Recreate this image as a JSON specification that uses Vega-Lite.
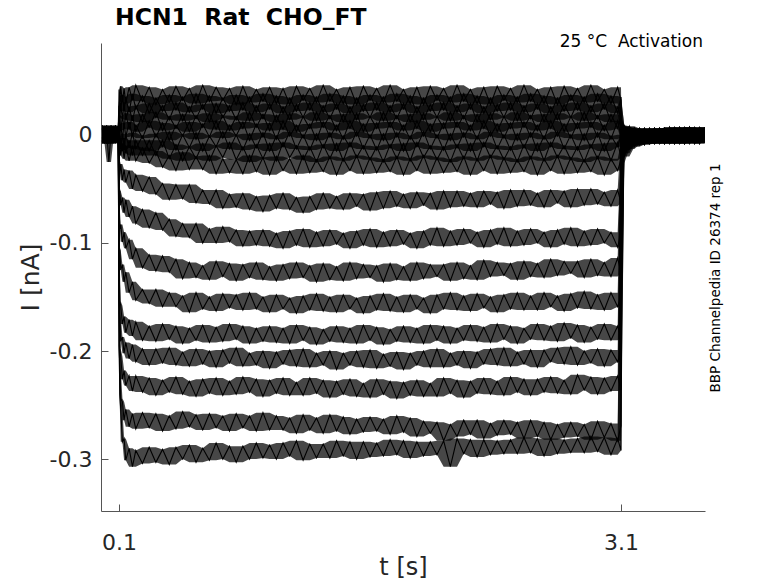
{
"$schema": "https://vega.github.io/schema/vega-lite/v6.json",
"width": 604, "height": 468,
"autosize": "none",
"padding": {"left": 101, "top": 43, "right": 73, "bottom": 72},
"background": "white",
"config": {"view": {"stroke": null}, "font": "DejaVu Sans"},
"title": {"text": "HCN1\u00a0 Rat\u00a0 CHO_FT", "anchor": "start", "frame": "group", "dx": 14, "fontSize": 23.5, "fontWeight": "bold", "font": "DejaVu Sans", "color": "#000000", "offset": -16, "baseline": "alphabetic"},
"datasets": {"sweeps": [
{"t":0,"a":0.006,"b":-0.005,"c":0.008,"d":-0.007,"e":0.004,"f":-0.006,"g":0.007,"h":-0.003,"i":0.005,"j":-0.008,"k":0.006,"l":-0.004,"m":0.009,"n":-0.006,"o":0.003,"p":-0.007,"q":0.005},
{"t":0.013,"a":-0.007,"b":0.006,"c":-0.004,"d":0.008,"e":-0.006,"f":0.005,"g":-0.008,"h":0.007,"i":-0.005,"j":0.004,"k":-0.007,"l":0.006,"m":-0.003,"n":0.008,"o":-0.006,"p":0.005,"q":-0.008},
{"t":0.026,"a":0.005,"b":-0.008,"c":0.007,"d":-0.004,"e":0.009,"f":-0.005,"g":0.004,"h":-0.007,"i":0.008,"j":-0.006,"k":0.003,"l":-0.008,"m":0.006,"n":-0.004,"o":0.007,"p":-0.006,"q":0.004},
{"t":0.039,"a":-0.006,"b":0.004,"c":-0.008,"d":0.006,"e":-0.005,"f":0.007,"g":-0.006,"h":0.005,"i":-0.007,"j":0.008,"k":-0.004,"l":0.006,"m":-0.008,"n":0.005,"o":-0.006,"p":0.004,"q":-0.025},
{"t":0.052,"a":0.008,"b":-0.006,"c":0.005,"d":-0.007,"e":0.006,"f":-0.004,"g":0.009,"h":-0.006,"i":0.004,"j":-0.007,"k":0.008,"l":-0.005,"m":0.004,"n":-0.008,"o":0.006,"p":-0.005,"q":0.003},
{"t":0.065,"a":-0.004,"b":0.007,"c":-0.006,"d":0.005,"e":-0.008,"f":0.006,"g":-0.005,"h":0.004,"i":-0.006,"j":0.005,"k":-0.007,"l":0.008,"m":-0.005,"n":0.006,"o":-0.004,"p":0.007,"q":-0.006},
{"t":0.078,"a":0.007,"b":-0.005,"c":0.004,"d":-0.008,"e":0.006,"f":-0.007,"g":0.005,"h":-0.004,"i":0.009,"j":-0.005,"k":0.006,"l":-0.006,"m":0.007,"n":-0.003,"o":0.008,"p":-0.006,"q":0.005},
{"t":0.091,"a":-0.005,"b":0.006,"c":-0.007,"d":0.004,"e":-0.004,"f":0.008,"g":-0.007,"h":0.006,"i":-0.005,"j":0.007,"k":-0.003,"l":0.005,"m":-0.006,"n":0.007,"o":-0.005,"p":0.004,"q":-0.007},
{"t":0.099,"a":0.003,"b":-0.004,"c":0.005,"d":-0.003,"e":0.004,"f":-0.005,"g":0.003,"h":-0.004,"i":0.002,"j":-0.003,"k":0.004,"l":-0.002,"m":0.003,"n":-0.004,"o":0.002,"p":-0.003,"q":0.001},
{"t":0.1,"a":0.042,"b":0.025,"c":0.027,"d":0.007,"e":0.008,"f":-0.011,"g":-0.005,"h":-0.016,"i":-0.024,"j":-0.053,"k":-0.07,"l":-0.104,"m":-0.125,"n":-0.153,"o":-0.166,"p":-0.195,"q":-0.197},
{"t":0.105,"a":0.031,"b":0.036,"c":0.016,"d":0.018,"e":-0.003,"f":-0.001,"g":-0.013,"h":-0.009,"i":-0.036,"j":-0.052,"k":-0.087,"l":-0.107,"m":-0.154,"n":-0.167,"o":-0.198,"p":-0.216,"q":-0.24},
{"t":0.11,"a":0.045,"b":0.023,"c":0.028,"d":0.004,"e":0.01,"f":-0.013,"g":-0.003,"h":-0.019,"i":-0.027,"j":-0.065,"k":-0.083,"l":-0.125,"m":-0.158,"n":-0.191,"o":-0.205,"p":-0.244,"q":-0.254},
{"t":0.12,"a":0.03,"b":0.037,"c":0.015,"d":0.017,"e":-0.004,"f":0.001,"g":-0.015,"h":-0.008,"i":-0.042,"j":-0.058,"k":-0.099,"l":-0.12,"m":-0.175,"n":-0.187,"o":-0.226,"p":-0.247,"q":-0.284},
{"t":0.13,"a":0.043,"b":0.022,"c":0.03,"d":0.006,"e":0.011,"f":-0.014,"g":-0.003,"h":-0.022,"i":-0.032,"j":-0.072,"k":-0.09,"l":-0.136,"m":-0.168,"n":-0.202,"o":-0.218,"p":-0.264,"q":-0.281},
{"t":0.14,"a":0.029,"b":0.035,"c":0.014,"d":0.02,"e":-0.002,"f":0,"g":-0.017,"h":-0.01,"i":-0.044,"j":-0.06,"k":-0.105,"l":-0.127,"m":-0.183,"n":-0.192,"o":-0.232,"p":-0.254,"q":-0.301},
{"t":0.16,"a":0.044,"b":0.021,"c":0.026,"d":0.005,"e":0.012,"f":-0.012,"g":-0.005,"h":-0.024,"i":-0.033,"j":-0.076,"k":-0.097,"l":-0.146,"m":-0.171,"n":-0.207,"o":-0.223,"p":-0.27,"q":-0.29},
{"t":0.18,"a":0.032,"b":0.038,"c":0.013,"d":0.018,"e":-0.001,"f":0.002,"g":-0.019,"h":-0.01,"i":-0.05,"j":-0.066,"k":-0.115,"l":-0.136,"m":-0.186,"n":-0.194,"o":-0.237,"p":-0.258,"q":-0.307},
{"t":0.2,"a":0.046,"b":0.024,"c":0.027,"d":0.003,"e":0.009,"f":-0.013,"g":-0.005,"h":-0.024,"i":-0.037,"j":-0.082,"k":-0.105,"l":-0.153,"m":-0.173,"n":-0.21,"o":-0.223,"p":-0.272,"q":-0.292},
{"t":0.24,"a":0.031,"b":0.036,"c":0.012,"d":0.019,"e":-0.003,"f":-0.001,"g":-0.019,"h":-0.012,"i":-0.052,"j":-0.069,"k":-0.123,"l":-0.143,"m":-0.19,"n":-0.198,"o":-0.238,"p":-0.257,"q":-0.304},
{"t":0.28,"a":0.044,"b":0.02,"c":0.029,"d":0.007,"e":0.013,"f":-0.015,"g":-0.005,"h":-0.026,"i":-0.039,"j":-0.086,"k":-0.111,"l":-0.156,"m":-0.177,"n":-0.213,"o":-0.225,"p":-0.271,"q":-0.289},
{"t":0.32,"a":0.028,"b":0.034,"c":0.016,"d":0.021,"e":-0.002,"f":0.001,"g":-0.019,"h":-0.015,"i":-0.055,"j":-0.072,"k":-0.126,"l":-0.143,"m":-0.191,"n":-0.198,"o":-0.241,"p":-0.258,"q":-0.303},
{"t":0.36,"a":0.042,"b":0.022,"c":0.027,"d":0.004,"e":0.011,"f":-0.011,"g":-0.005,"h":-0.03,"i":-0.045,"j":-0.088,"k":-0.112,"l":-0.159,"m":-0.175,"n":-0.211,"o":-0.227,"p":-0.274,"q":-0.291},
{"t":0.4,"a":0.03,"b":0.037,"c":0.014,"d":0.017,"e":-0.005,"f":0.003,"g":-0.022,"h":-0.019,"i":-0.06,"j":-0.078,"k":-0.127,"l":-0.146,"m":-0.189,"n":-0.197,"o":-0.238,"p":-0.26,"q":-0.305},
{"t":0.44,"a":0.045,"b":0.023,"c":0.03,"d":0.006,"e":0.009,"f":-0.014,"g":-0.009,"h":-0.033,"i":-0.046,"j":-0.094,"k":-0.115,"l":-0.159,"m":-0.177,"n":-0.213,"o":-0.224,"p":-0.272,"q":-0.289},
{"t":0.48,"a":0.032,"b":0.035,"c":0.013,"d":0.019,"e":-0.001,"f":0,"g":-0.024,"h":-0.016,"i":-0.059,"j":-0.082,"k":-0.133,"l":-0.149,"m":-0.193,"n":-0.201,"o":-0.24,"p":-0.256,"q":-0.3},
{"t":0.52,"a":0.043,"b":0.021,"c":0.026,"d":0.003,"e":0.012,"f":-0.012,"g":-0.011,"h":-0.032,"i":-0.046,"j":-0.095,"k":-0.118,"l":-0.164,"m":-0.179,"n":-0.214,"o":-0.228,"p":-0.27,"q":-0.287},
{"t":0.56,"a":0.029,"b":0.038,"c":0.015,"d":0.018,"e":-0.004,"f":0.002,"g":-0.022,"h":-0.02,"i":-0.063,"j":-0.082,"k":-0.132,"l":-0.146,"m":-0.19,"n":-0.198,"o":-0.242,"p":-0.259,"q":-0.303},
{"t":0.6,"a":0.046,"b":0.024,"c":0.028,"d":0.007,"e":0.01,"f":-0.015,"g":-0.008,"h":-0.032,"i":-0.051,"j":-0.1,"k":-0.121,"l":-0.161,"m":-0.176,"n":-0.212,"o":-0.226,"p":-0.273,"q":-0.29},
{"t":0.64,"a":0.031,"b":0.036,"c":0.012,"d":0.02,"e":-0.002,"f":-0.001,"g":-0.024,"h":-0.019,"i":-0.064,"j":-0.087,"k":-0.134,"l":-0.15,"m":-0.192,"n":-0.2,"o":-0.239,"p":-0.258,"q":-0.301},
{"t":0.68,"a":0.044,"b":0.02,"c":0.029,"d":0.005,"e":0.013,"f":-0.011,"g":-0.01,"h":-0.036,"i":-0.051,"j":-0.1,"k":-0.117,"l":-0.163,"m":-0.178,"n":-0.215,"o":-0.225,"p":-0.271,"q":-0.285},
{"t":0.72,"a":0.032,"b":0.034,"c":0.016,"d":0.018,"e":-0.003,"f":0.003,"g":-0.021,"h":-0.022,"i":-0.068,"j":-0.085,"k":-0.131,"l":-0.147,"m":-0.191,"n":-0.199,"o":-0.241,"p":-0.26,"q":-0.3},
{"t":0.76,"a":0.043,"b":0.022,"c":0.027,"d":0.004,"e":0.009,"f":-0.013,"g":-0.007,"h":-0.035,"i":-0.055,"j":-0.099,"k":-0.119,"l":-0.16,"m":-0.175,"n":-0.211,"o":-0.228,"p":-0.274,"q":-0.288},
{"t":0.8,"a":0.028,"b":0.037,"c":0.014,"d":0.017,"e":-0.001,"f":0,"g":-0.023,"h":-0.023,"i":-0.067,"j":-0.088,"k":-0.135,"l":-0.148,"m":-0.189,"n":-0.197,"o":-0.24,"p":-0.258,"q":-0.303},
{"t":0.84,"a":0.045,"b":0.023,"c":0.03,"d":0.006,"e":0.012,"f":-0.014,"g":-0.011,"h":-0.036,"i":-0.054,"j":-0.103,"k":-0.12,"l":-0.162,"m":-0.177,"n":-0.214,"o":-0.224,"p":-0.271,"q":-0.288},
{"t":0.88,"a":0.03,"b":0.035,"c":0.013,"d":0.021,"e":-0.005,"f":0.001,"g":-0.025,"h":-0.019,"i":-0.069,"j":-0.089,"k":-0.132,"l":-0.146,"m":-0.193,"n":-0.202,"o":-0.238,"p":-0.26,"q":-0.3},
{"t":0.92,"a":0.042,"b":0.021,"c":0.027,"d":0.007,"e":0.01,"f":-0.012,"g":-0.009,"h":-0.034,"i":-0.057,"j":-0.102,"k":-0.118,"l":-0.161,"m":-0.179,"n":-0.213,"o":-0.226,"p":-0.274,"q":-0.285},
{"t":0.96,"a":0.031,"b":0.038,"c":0.015,"d":0.019,"e":-0.002,"f":0.002,"g":-0.022,"h":-0.021,"i":-0.071,"j":-0.088,"k":-0.134,"l":-0.15,"m":-0.191,"n":-0.2,"o":-0.242,"p":-0.257,"q":-0.299},
{"t":1.0,"a":0.044,"b":0.024,"c":0.029,"d":0.004,"e":0.011,"f":-0.015,"g":-0.008,"h":-0.037,"i":-0.056,"j":-0.103,"k":-0.122,"l":-0.164,"m":-0.177,"n":-0.216,"o":-0.227,"p":-0.273,"q":-0.287},
{"t":1.04,"a":0.029,"b":0.036,"c":0.012,"d":0.018,"e":-0.004,"f":-0.001,"g":-0.024,"h":-0.02,"i":-0.068,"j":-0.091,"k":-0.135,"l":-0.148,"m":-0.192,"n":-0.201,"o":-0.239,"p":-0.26,"q":-0.3},
{"t":1.08,"a":0.043,"b":0.02,"c":0.026,"d":0.005,"e":0.013,"f":-0.011,"g":-0.007,"h":-0.033,"i":-0.054,"j":-0.105,"k":-0.12,"l":-0.161,"m":-0.179,"n":-0.212,"o":-0.225,"p":-0.273,"q":-0.285},
{"t":1.12,"a":0.028,"b":0.034,"c":0.014,"d":0.02,"e":-0.001,"f":0.003,"g":-0.021,"h":-0.022,"i":-0.069,"j":-0.089,"k":-0.133,"l":-0.151,"m":-0.193,"n":-0.199,"o":-0.241,"p":-0.262,"q":-0.297},
{"t":1.16,"a":0.045,"b":0.022,"c":0.028,"d":0.003,"e":0.009,"f":-0.013,"g":-0.01,"h":-0.036,"i":-0.058,"j":-0.102,"k":-0.118,"l":-0.165,"m":-0.176,"n":-0.214,"o":-0.229,"p":-0.276,"q":-0.283},
{"t":1.2,"a":0.032,"b":0.037,"c":0.016,"d":0.017,"e":-0.003,"f":0,"g":-0.023,"h":-0.019,"i":-0.072,"j":-0.087,"k":-0.132,"l":-0.149,"m":-0.19,"n":-0.198,"o":-0.241,"p":-0.259,"q":-0.301},
{"t":1.24,"a":0.043,"b":0.023,"c":0.03,"d":0.006,"e":0.01,"f":-0.014,"g":-0.011,"h":-0.035,"i":-0.057,"j":-0.104,"k":-0.121,"l":-0.162,"m":-0.178,"n":-0.215,"o":-0.225,"p":-0.273,"q":-0.286},
{"t":1.28,"a":0.03,"b":0.035,"c":0.013,"d":0.021,"e":-0.005,"f":0.001,"g":-0.025,"h":-0.023,"i":-0.069,"j":-0.09,"k":-0.136,"l":-0.147,"m":-0.194,"n":-0.202,"o":-0.239,"p":-0.262,"q":-0.299},
{"t":1.32,"a":0.046,"b":0.021,"c":0.027,"d":0.007,"e":0.012,"f":-0.012,"g":-0.009,"h":-0.034,"i":-0.054,"j":-0.103,"k":-0.119,"l":-0.163,"m":-0.18,"n":-0.213,"o":-0.227,"p":-0.276,"q":-0.286},
{"t":1.36,"a":0.031,"b":0.038,"c":0.015,"d":0.018,"e":-0.002,"f":0.002,"g":-0.022,"h":-0.02,"i":-0.068,"j":-0.088,"k":-0.134,"l":-0.15,"m":-0.191,"n":-0.2,"o":-0.243,"p":-0.259,"q":-0.299},
{"t":1.4,"a":0.042,"b":0.024,"c":0.029,"d":0.004,"e":0.009,"f":-0.015,"g":-0.008,"h":-0.037,"i":-0.057,"j":-0.101,"k":-0.122,"l":-0.164,"m":-0.177,"n":-0.217,"o":-0.228,"p":-0.274,"q":-0.283},
{"t":1.44,"a":0.029,"b":0.036,"c":0.012,"d":0.019,"e":-0.004,"f":-0.001,"g":-0.024,"h":-0.022,"i":-0.069,"j":-0.091,"k":-0.135,"l":-0.148,"m":-0.192,"n":-0.202,"o":-0.24,"p":-0.261,"q":-0.297},
{"t":1.48,"a":0.044,"b":0.02,"c":0.026,"d":0.006,"e":0.013,"f":-0.011,"g":-0.007,"h":-0.033,"i":-0.054,"j":-0.105,"k":-0.118,"l":-0.161,"m":-0.179,"n":-0.213,"o":-0.226,"p":-0.277,"q":-0.284},
{"t":1.52,"a":0.028,"b":0.034,"c":0.014,"d":0.02,"e":-0.001,"f":0.003,"g":-0.021,"h":-0.019,"i":-0.066,"j":-0.089,"k":-0.133,"l":-0.151,"m":-0.193,"n":-0.2,"o":-0.242,"p":-0.263,"q":-0.3},
{"t":1.56,"a":0.045,"b":0.022,"c":0.028,"d":0.003,"e":0.01,"f":-0.013,"g":-0.01,"h":-0.036,"i":-0.055,"j":-0.102,"k":-0.12,"l":-0.165,"m":-0.176,"n":-0.215,"o":-0.23,"p":-0.275,"q":-0.284},
{"t":1.6,"a":0.032,"b":0.037,"c":0.016,"d":0.017,"e":-0.003,"f":0,"g":-0.023,"h":-0.021,"i":-0.07,"j":-0.087,"k":-0.132,"l":-0.149,"m":-0.19,"n":-0.199,"o":-0.243,"p":-0.261,"q":-0.298},
{"t":1.64,"a":0.043,"b":0.023,"c":0.03,"d":0.006,"e":0.011,"f":-0.014,"g":-0.011,"h":-0.035,"i":-0.053,"j":-0.104,"k":-0.121,"l":-0.162,"m":-0.178,"n":-0.216,"o":-0.226,"p":-0.274,"q":-0.285},
{"t":1.68,"a":0.03,"b":0.035,"c":0.013,"d":0.021,"e":-0.005,"f":0.001,"g":-0.025,"h":-0.023,"i":-0.068,"j":-0.09,"k":-0.136,"l":-0.147,"m":-0.194,"n":-0.203,"o":-0.24,"p":-0.263,"q":-0.297},
{"t":1.72,"a":0.046,"b":0.021,"c":0.027,"d":0.007,"e":0.012,"f":-0.012,"g":-0.009,"h":-0.034,"i":-0.052,"j":-0.103,"k":-0.119,"l":-0.163,"m":-0.18,"n":-0.214,"o":-0.228,"p":-0.277,"q":-0.282},
{"t":1.76,"a":0.031,"b":0.038,"c":0.015,"d":0.018,"e":-0.002,"f":0.002,"g":-0.022,"h":-0.02,"i":-0.066,"j":-0.088,"k":-0.134,"l":-0.15,"m":-0.191,"n":-0.201,"o":-0.244,"p":-0.26,"q":-0.296},
{"t":1.8,"a":0.042,"b":0.024,"c":0.029,"d":0.004,"e":0.009,"f":-0.015,"g":-0.008,"h":-0.037,"i":-0.055,"j":-0.101,"k":-0.122,"l":-0.164,"m":-0.177,"n":-0.217,"o":-0.229,"p":-0.275,"q":-0.283},
{"t":1.84,"a":0.029,"b":0.036,"c":0.012,"d":0.019,"e":-0.004,"f":-0.001,"g":-0.024,"h":-0.022,"i":-0.068,"j":-0.091,"k":-0.135,"l":-0.148,"m":-0.192,"n":-0.202,"o":-0.241,"p":-0.262,"q":-0.299},
{"t":1.88,"a":0.044,"b":0.02,"c":0.026,"d":0.006,"e":0.013,"f":-0.011,"g":-0.007,"h":-0.033,"i":-0.053,"j":-0.105,"k":-0.118,"l":-0.161,"m":-0.179,"n":-0.213,"o":-0.227,"p":-0.279,"q":-0.284},
{"t":1.92,"a":0.028,"b":0.034,"c":0.014,"d":0.02,"e":-0.001,"f":0.003,"g":-0.021,"h":-0.019,"i":-0.065,"j":-0.089,"k":-0.133,"l":-0.151,"m":-0.193,"n":-0.2,"o":-0.242,"p":-0.265,"q":-0.297},
{"t":1.96,"a":0.045,"b":0.022,"c":0.028,"d":0.003,"e":0.01,"f":-0.013,"g":-0.01,"h":-0.036,"i":-0.054,"j":-0.102,"k":-0.12,"l":-0.165,"m":-0.176,"n":-0.215,"o":-0.23,"p":-0.276,"q":-0.284},
{"t":2.0,"a":0.032,"b":0.037,"c":0.016,"d":0.017,"e":-0.003,"f":0,"g":-0.023,"h":-0.021,"i":-0.069,"j":-0.086,"k":-0.131,"l":-0.148,"m":-0.19,"n":-0.198,"o":-0.242,"p":-0.266,"q":-0.296},
{"t":2.04,"a":0.043,"b":0.023,"c":0.03,"d":0.006,"e":0.011,"f":-0.014,"g":-0.011,"h":-0.035,"i":-0.052,"j":-0.103,"k":-0.12,"l":-0.161,"m":-0.177,"n":-0.215,"o":-0.225,"p":-0.283,"q":-0.283},
{"t":2.08,"a":0.03,"b":0.035,"c":0.013,"d":0.021,"e":-0.005,"f":0.001,"g":-0.025,"h":-0.023,"i":-0.067,"j":-0.089,"k":-0.135,"l":-0.146,"m":-0.193,"n":-0.202,"o":-0.239,"p":-0.268,"q":-0.307},
{"t":2.12,"a":0.046,"b":0.021,"c":0.027,"d":0.007,"e":0.012,"f":-0.012,"g":-0.009,"h":-0.034,"i":-0.052,"j":-0.102,"k":-0.118,"l":-0.162,"m":-0.179,"n":-0.213,"o":-0.227,"p":-0.279,"q":-0.281},
{"t":2.16,"a":0.031,"b":0.038,"c":0.015,"d":0.018,"e":-0.002,"f":0.002,"g":-0.022,"h":-0.02,"i":-0.066,"j":-0.087,"k":-0.133,"l":-0.149,"m":-0.19,"n":-0.2,"o":-0.243,"p":-0.264,"q":-0.295},
{"t":2.2,"a":0.042,"b":0.024,"c":0.029,"d":0.004,"e":0.009,"f":-0.015,"g":-0.008,"h":-0.037,"i":-0.054,"j":-0.1,"k":-0.121,"l":-0.163,"m":-0.176,"n":-0.216,"o":-0.228,"p":-0.277,"q":-0.282},
{"t":2.24,"a":0.029,"b":0.036,"c":0.012,"d":0.019,"e":-0.004,"f":-0.001,"g":-0.024,"h":-0.022,"i":-0.067,"j":-0.09,"k":-0.134,"l":-0.147,"m":-0.191,"n":-0.201,"o":-0.239,"p":-0.264,"q":-0.298},
{"t":2.28,"a":0.044,"b":0.02,"c":0.026,"d":0.006,"e":0.013,"f":-0.011,"g":-0.007,"h":-0.033,"i":-0.052,"j":-0.104,"k":-0.116,"l":-0.16,"m":-0.178,"n":-0.212,"o":-0.225,"p":-0.281,"q":-0.282},
{"t":2.32,"a":0.028,"b":0.034,"c":0.014,"d":0.02,"e":-0.001,"f":0.003,"g":-0.021,"h":-0.019,"i":-0.064,"j":-0.088,"k":-0.131,"l":-0.15,"m":-0.192,"n":-0.198,"o":-0.24,"p":-0.267,"q":-0.296},
{"t":2.36,"a":0.045,"b":0.022,"c":0.028,"d":0.003,"e":0.01,"f":-0.013,"g":-0.01,"h":-0.036,"i":-0.053,"j":-0.101,"k":-0.118,"l":-0.164,"m":-0.175,"n":-0.213,"o":-0.228,"p":-0.278,"q":-0.283},
{"t":2.4,"a":0.032,"b":0.037,"c":0.016,"d":0.017,"e":-0.003,"f":0,"g":-0.023,"h":-0.021,"i":-0.068,"j":-0.086,"k":-0.13,"l":-0.148,"m":-0.189,"n":-0.197,"o":-0.241,"p":-0.264,"q":-0.295},
{"t":2.44,"a":0.043,"b":0.023,"c":0.03,"d":0.006,"e":0.011,"f":-0.014,"g":-0.011,"h":-0.035,"i":-0.051,"j":-0.103,"k":-0.119,"l":-0.161,"m":-0.177,"n":-0.214,"o":-0.224,"p":-0.277,"q":-0.282},
{"t":2.48,"a":0.03,"b":0.035,"c":0.013,"d":0.021,"e":-0.005,"f":0.001,"g":-0.025,"h":-0.023,"i":-0.066,"j":-0.089,"k":-0.134,"l":-0.146,"m":-0.193,"n":-0.201,"o":-0.238,"p":-0.266,"q":-0.295},
{"t":2.52,"a":0.046,"b":0.021,"c":0.027,"d":0.007,"e":0.012,"f":-0.012,"g":-0.009,"h":-0.034,"i":-0.051,"j":-0.102,"k":-0.117,"l":-0.162,"m":-0.179,"n":-0.212,"o":-0.226,"p":-0.281,"q":-0.28},
{"t":2.56,"a":0.031,"b":0.038,"c":0.015,"d":0.018,"e":-0.002,"f":0.002,"g":-0.022,"h":-0.02,"i":-0.065,"j":-0.087,"k":-0.131,"l":-0.149,"m":-0.189,"n":-0.199,"o":-0.241,"p":-0.264,"q":-0.294},
{"t":2.6,"a":0.042,"b":0.024,"c":0.029,"d":0.004,"e":0.009,"f":-0.015,"g":-0.008,"h":-0.037,"i":-0.054,"j":-0.1,"k":-0.119,"l":-0.162,"m":-0.175,"n":-0.215,"o":-0.226,"p":-0.279,"q":-0.281},
{"t":2.64,"a":0.029,"b":0.036,"c":0.012,"d":0.019,"e":-0.004,"f":-0.001,"g":-0.024,"h":-0.022,"i":-0.067,"j":-0.09,"k":-0.132,"l":-0.146,"m":-0.19,"n":-0.199,"o":-0.238,"p":-0.266,"q":-0.297},
{"t":2.68,"a":0.044,"b":0.02,"c":0.026,"d":0.006,"e":0.013,"f":-0.011,"g":-0.007,"h":-0.033,"i":-0.051,"j":-0.104,"k":-0.115,"l":-0.159,"m":-0.177,"n":-0.21,"o":-0.224,"p":-0.282,"q":-0.281},
{"t":2.72,"a":0.028,"b":0.034,"c":0.014,"d":0.02,"e":-0.001,"f":0.003,"g":-0.021,"h":-0.019,"i":-0.063,"j":-0.088,"k":-0.13,"l":-0.149,"m":-0.191,"n":-0.197,"o":-0.239,"p":-0.268,"q":-0.295},
{"t":2.76,"a":0.045,"b":0.022,"c":0.028,"d":0.003,"e":0.01,"f":-0.013,"g":-0.01,"h":-0.036,"i":-0.052,"j":-0.101,"k":-0.117,"l":-0.163,"m":-0.174,"n":-0.212,"o":-0.227,"p":-0.28,"q":-0.282},
{"t":2.8,"a":0.032,"b":0.037,"c":0.016,"d":0.017,"e":-0.003,"f":0,"g":-0.023,"h":-0.021,"i":-0.067,"j":-0.086,"k":-0.128,"l":-0.147,"m":-0.188,"n":-0.196,"o":-0.24,"p":-0.266,"q":-0.294},
{"t":2.84,"a":0.043,"b":0.023,"c":0.03,"d":0.006,"e":0.011,"f":-0.014,"g":-0.011,"h":-0.035,"i":-0.05,"j":-0.103,"k":-0.117,"l":-0.16,"m":-0.176,"n":-0.213,"o":-0.222,"p":-0.279,"q":-0.281},
{"t":2.88,"a":0.03,"b":0.035,"c":0.013,"d":0.021,"e":-0.005,"f":0.001,"g":-0.025,"h":-0.023,"i":-0.065,"j":-0.089,"k":-0.132,"l":-0.145,"m":-0.192,"n":-0.2,"o":-0.236,"p":-0.268,"q":-0.294},
{"t":2.92,"a":0.046,"b":0.021,"c":0.027,"d":0.007,"e":0.012,"f":-0.012,"g":-0.009,"h":-0.034,"i":-0.05,"j":-0.102,"k":-0.115,"l":-0.161,"m":-0.178,"n":-0.211,"o":-0.224,"p":-0.282,"q":-0.279},
{"t":2.96,"a":0.031,"b":0.038,"c":0.015,"d":0.018,"e":-0.002,"f":0.002,"g":-0.022,"h":-0.02,"i":-0.064,"j":-0.087,"k":-0.13,"l":-0.148,"m":-0.189,"n":-0.198,"o":-0.24,"p":-0.265,"q":-0.293},
{"t":3.0,"a":0.042,"b":0.024,"c":0.029,"d":0.004,"e":0.009,"f":-0.015,"g":-0.008,"h":-0.037,"i":-0.053,"j":-0.1,"k":-0.118,"l":-0.162,"m":-0.175,"n":-0.214,"o":-0.225,"p":-0.28,"q":-0.28},
{"t":3.04,"a":0.029,"b":0.036,"c":0.012,"d":0.019,"e":-0.004,"f":-0.001,"g":-0.024,"h":-0.022,"i":-0.066,"j":-0.09,"k":-0.131,"l":-0.146,"m":-0.19,"n":-0.199,"o":-0.237,"p":-0.267,"q":-0.296},
{"t":3.08,"a":0.044,"b":0.02,"c":0.026,"d":0.006,"e":0.013,"f":-0.011,"g":-0.007,"h":-0.033,"i":-0.051,"j":-0.104,"k":-0.114,"l":-0.159,"m":-0.177,"n":-0.21,"o":-0.223,"p":-0.283,"q":-0.281},
{"t":3.1,"a":0.032,"b":0.035,"c":0.015,"d":0.017,"e":-0.002,"f":0,"g":-0.021,"h":-0.023,"i":-0.063,"j":-0.09,"k":-0.128,"l":-0.149,"m":-0.188,"n":-0.2,"o":-0.236,"p":-0.269,"q":-0.292},
{"t":3.101,"a":0.009,"b":-0.003,"c":0.009,"d":-0.005,"e":0.005,"f":-0.007,"g":0.005,"h":-0.008,"i":0.001,"j":-0.013,"k":-0.002,"l":-0.016,"m":-0.007,"n":-0.021,"o":-0.01,"p":-0.026,"q":-0.015},
{"t":3.12,"a":-0.005,"b":0.007,"c":-0.005,"d":0.008,"e":-0.005,"f":0.006,"g":-0.008,"h":0.004,"i":-0.009,"j":0.002,"k":-0.012,"l":-0.002,"m":-0.014,"n":-0.002,"o":-0.017,"p":-0.006,"q":-0.02},
{"t":3.15,"a":0.008,"b":-0.005,"c":0.006,"d":-0.007,"e":0.006,"f":-0.005,"g":0.007,"h":-0.007,"i":0.005,"j":-0.009,"k":0.002,"l":-0.01,"m":0.003,"n":-0.01,"o":0,"p":-0.013,"q":-0.002},
{"t":3.18,"a":-0.007,"b":0.006,"c":-0.006,"d":0.005,"e":-0.008,"f":0.004,"g":-0.007,"h":0.006,"i":-0.007,"j":0.004,"k":-0.009,"l":0.002,"m":-0.01,"n":0.002,"o":-0.009,"p":0.002,"q":-0.011},
{"t":3.21,"a":0.006,"b":-0.007,"c":0.005,"d":-0.006,"e":0.006,"f":-0.007,"g":0.004,"h":-0.008,"i":0.005,"j":-0.007,"k":0.005,"l":-0.008,"m":0.003,"n":-0.009,"o":0.003,"p":-0.009,"q":0.004},
{"t":3.24,"a":-0.006,"b":0.005,"c":-0.008,"d":0.006,"e":-0.007,"f":0.004,"g":-0.008,"h":0.005,"i":-0.006,"j":0.006,"k":-0.007,"l":0.003,"m":-0.009,"n":0.004,"o":-0.007,"p":0.004,"q":-0.009},
{"t":3.27,"a":0.005,"b":-0.008,"c":0.004,"d":-0.007,"e":0.006,"f":-0.006,"g":0.005,"h":-0.008,"i":0.004,"j":-0.007,"k":0.006,"l":-0.006,"m":0.005,"n":-0.008,"o":0.004,"p":-0.007,"q":0.005},
{"t":3.3,"a":-0.008,"b":0.004,"c":-0.007,"d":0.006,"e":-0.006,"f":0.005,"g":-0.008,"h":0.004,"i":-0.007,"j":0.006,"k":-0.006,"l":0.005,"m":-0.008,"n":0.004,"o":-0.007,"p":0.006,"q":-0.006},
{"t":3.33,"a":0.004,"b":-0.007,"c":0.006,"d":-0.006,"e":0.005,"f":-0.008,"g":0.004,"h":-0.007,"i":0.006,"j":-0.006,"k":0.005,"l":-0.008,"m":0.004,"n":-0.007,"o":0.006,"p":-0.006,"q":0.005},
{"t":3.36,"a":-0.007,"b":0.006,"c":-0.006,"d":0.005,"e":-0.008,"f":0.004,"g":-0.007,"h":0.006,"i":-0.006,"j":0.005,"k":-0.008,"l":0.004,"m":-0.007,"n":0.006,"o":-0.006,"p":0.005,"q":-0.008},
{"t":3.39,"a":0.006,"b":-0.006,"c":0.004,"d":-0.008,"e":0.007,"f":-0.005,"g":0.005,"h":-0.007,"i":0.004,"j":-0.008,"k":0.006,"l":-0.005,"m":0.007,"n":-0.006,"o":0.005,"p":-0.007,"q":0.004},
{"t":3.42,"a":-0.007,"b":0.005,"c":-0.008,"d":0.004,"e":-0.006,"f":0.006,"g":-0.005,"h":0.005,"i":-0.008,"j":0.004,"k":-0.006,"l":0.007,"m":-0.005,"n":0.005,"o":-0.008,"p":0.004,"q":-0.007},
{"t":3.45,"a":0.005,"b":-0.008,"c":0.006,"d":-0.005,"e":0.004,"f":-0.007,"g":0.007,"h":-0.006,"i":0.005,"j":-0.005,"k":0.004,"l":-0.007,"m":0.006,"n":-0.008,"o":0.004,"p":-0.006,"q":0.007},
{"t":3.48,"a":-0.008,"b":0.004,"c":-0.007,"d":0.006,"e":-0.005,"f":0.005,"g":-0.008,"h":0.004,"i":-0.006,"j":0.007,"k":-0.007,"l":0.005,"m":-0.008,"n":0.004,"o":-0.006,"p":0.006,"q":-0.005},
{"t":3.51,"a":0.007,"b":-0.005,"c":0.004,"d":-0.007,"e":0.006,"f":-0.006,"g":0.004,"h":-0.008,"i":0.007,"j":-0.006,"k":0.005,"l":-0.006,"m":0.004,"n":-0.007,"o":0.007,"p":-0.005,"q":0.006},
{"t":3.54,"a":-0.005,"b":0.006,"c":-0.007,"d":0.005,"e":-0.008,"f":0.004,"g":-0.006,"h":0.007,"i":-0.005,"j":0.005,"k":-0.008,"l":0.006,"m":-0.006,"n":0.005,"o":-0.007,"p":0.004,"q":-0.006},
{"t":3.57,"a":0.006,"b":-0.007,"c":0.005,"d":-0.006,"e":0.004,"f":-0.008,"g":0.006,"h":-0.005,"i":0.007,"j":-0.007,"k":0.004,"l":-0.006,"m":0.005,"n":-0.008,"o":0.006,"p":-0.006,"q":0.005},
{"t":3.6,"a":-0.006,"b":0.005,"c":-0.006,"d":0.007,"e":-0.005,"f":0.005,"g":-0.007,"h":0.006,"i":-0.006,"j":0.004,"k":-0.005,"l":0.007,"m":-0.007,"n":0.005,"o":-0.005,"p":0.006,"q":-0.006}
]},
"layer": [
{
"data": {"name": "sweeps"},
"transform": [
 {"fold": ["a","b","c","d","e","f","g","h","i","j","k","l","m","n","o","p","q"], "as": ["sweep","I"]},
 {"window": [{"op": "min", "field": "I", "as": "lo"}, {"op": "max", "field": "I", "as": "hi"}], "groupby": ["sweep"], "sort": [{"field": "t", "order": "ascending"}], "frame": [-1, 1]}
],
"mark": {"type": "area", "color": "#000000", "opacity": 0.72, "clip": true, "orient": "vertical"},
"encoding": {
"x": {"field": "t", "type": "quantitative", "scale": {"domain": [-0.008, 3.602], "nice": false, "zero": false}},
"y": {"field": "lo", "type": "quantitative", "scale": {"domain": [-0.348, 0.085], "nice": false, "zero": false}},
"y2": {"field": "hi"},
"detail": {"field": "sweep", "type": "nominal"}
}
},
{
"data": {"name": "sweeps"},
"transform": [{"fold": ["a","b","c","d","e","f","g","h","i","j","k","l","m","n","o","p","q"], "as": ["sweep","I"]}],
"mark": {"type": "line", "color": "#000000", "strokeWidth": 1.1, "clip": true},
"encoding": {
"x": {"field": "t", "type": "quantitative", "scale": {"domain": [-0.008, 3.602], "nice": false, "zero": false},
 "axis": {"values": [0.1, 3.1], "labelExpr": "'' + datum.value", "title": "t [s]", "grid": false, "tickSize": -7, "labelPadding": 28, "labelFontSize": 22, "labelColor": "#262626", "labelFont": "DejaVu Sans", "titleFont": "DejaVu Sans", "titleFontSize": 24, "titleFontWeight": "normal", "titleColor": "#262626", "titlePadding": 2, "domainColor": "#555555", "tickColor": "#555555", "labelFlush": false}},
"y": {"field": "I", "type": "quantitative", "scale": {"domain": [-0.348, 0.085], "nice": false, "zero": false},
 "axis": {"values": [-0.3, -0.2, -0.1, 0], "labelExpr": "'' + datum.value", "title": "I [nA]", "grid": false, "tickSize": -7, "labelPadding": 16, "labelFontSize": 22, "labelColor": "#262626", "labelFont": "DejaVu Sans", "titleFont": "DejaVu Sans", "titleFontSize": 25, "titleFontWeight": "normal", "titleColor": "#262626", "titlePadding": 6, "domainColor": "#555555", "tickColor": "#555555", "labelFlush": false}},
"detail": {"field": "sweep", "type": "nominal"}
}
},
{
"data": {"values": [{}]},
"mark": {"type": "text", "text": "25 °C\u00a0 Activation", "align": "right", "baseline": "middle", "fontSize": 17, "font": "DejaVu Sans", "color": "#000000"},
"encoding": {"x": {"datum": 3.59, "type": "quantitative"}, "y": {"datum": 0.086, "type": "quantitative"}}
},
{
"data": {"values": [{}]},
"mark": {"type": "text", "text": "BBP Channelpedia ID 26374 rep 1", "align": "center", "baseline": "middle", "angle": 270, "fontSize": 13.5, "font": "DejaVu Sans", "color": "#000000"},
"encoding": {"x": {"datum": 3.668, "type": "quantitative"}, "y": {"datum": -0.1324, "type": "quantitative"}}
}
]
}
